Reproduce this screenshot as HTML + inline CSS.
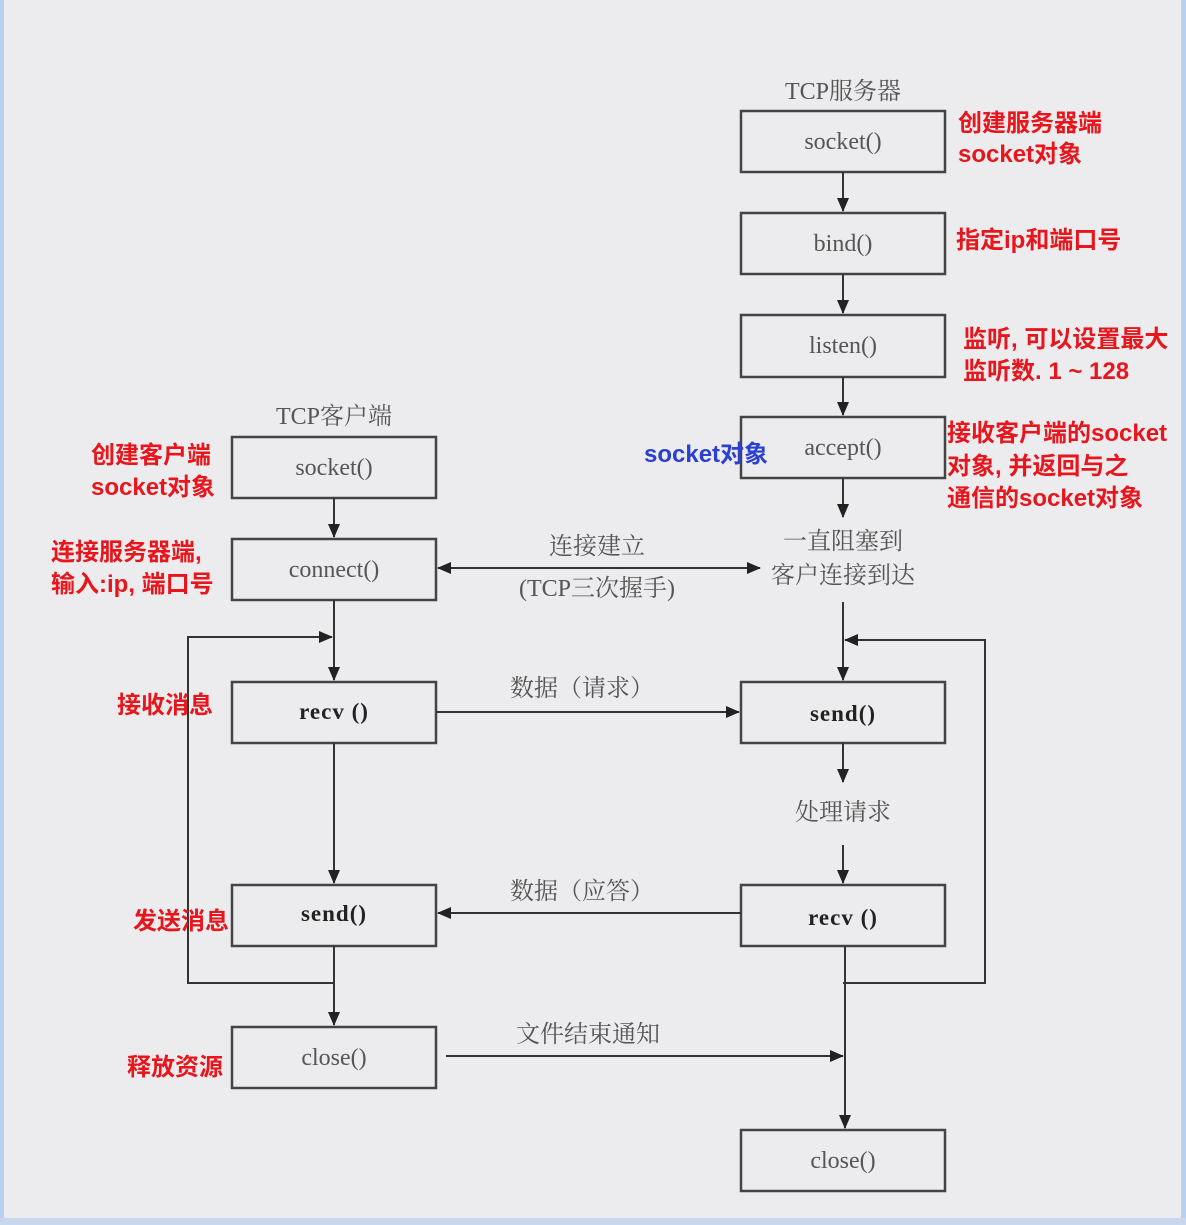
<!DOCTYPE html>
<html><head><meta charset="utf-8"><style>
body{margin:0;background:#ececee;}
svg{display:block}
.g{font-family:"Liberation Serif","Noto Serif CJK SC",serif;fill:#555;font-size:24px;text-anchor:middle}
.b{font-family:"Liberation Serif",serif;fill:#222;font-size:23px;font-weight:bold;text-anchor:middle;letter-spacing:1px}
.r{font-family:"Liberation Sans","Noto Sans CJK SC",sans-serif;fill:#e8161c;font-size:24px;font-weight:bold}
.bl{font-family:"Liberation Sans","Noto Sans CJK SC",sans-serif;fill:#2b3fd0;font-size:24px;font-weight:bold}
rect{fill:none;stroke:#444;stroke-width:2.5}
line,polyline{stroke:#333;stroke-width:2;fill:none}
</style></head><body>
<svg width="1186" height="1225" viewBox="0 0 1186 1225">
<defs>
<marker id="s" markerWidth="14" markerHeight="14" refX="13" refY="7" orient="auto-start-reverse" markerUnits="userSpaceOnUse" viewBox="0 0 14 14"><path d="M0,1L14,7L0,13z" fill="#222"/></marker></defs>
<rect x="0" y="0" width="4" height="1225" style="fill:#b8cff0;stroke:none"/>
<rect x="1181" y="0" width="5" height="1225" style="fill:#b8cff0;stroke:none"/>
<rect x="0" y="1218" width="1186" height="7" style="fill:#c8d6ee;stroke:none"/>
<!-- server -->
<text class="g" x="843" y="99">TCP服务器</text>
<rect x="741" y="111" width="204" height="61"/><text class="g" x="843" y="149">socket()</text>
<rect x="741" y="213" width="204" height="61"/><text class="g" x="843" y="251">bind()</text>
<rect x="741" y="315" width="204" height="62"/><text class="g" x="843" y="353">listen()</text>
<rect x="741" y="417" width="204" height="61"/><text class="g" x="843" y="455">accept()</text>
<rect x="741" y="682" width="204" height="61"/><text class="b" x="843" y="721">send()</text>
<rect x="741" y="885" width="204" height="61"/><text class="b" x="843" y="925">recv ()</text>
<rect x="741" y="1130" width="204" height="61"/><text class="g" x="843" y="1168">close()</text>
<line x1="843" y1="172" x2="843" y2="211" marker-end="url(#s)"/>
<line x1="843" y1="274" x2="843" y2="313" marker-end="url(#s)"/>
<line x1="843" y1="377" x2="843" y2="415" marker-end="url(#s)"/>
<line x1="843" y1="478" x2="843" y2="517" marker-end="url(#s)"/>
<text class="g" x="843" y="549">一直阻塞到</text>
<text class="g" x="843" y="583">客户连接到达</text>
<line x1="843" y1="602" x2="843" y2="680" marker-end="url(#s)"/>
<polyline points="843,983 985,983 985,640 845,640" marker-end="url(#s)"/>
<line x1="843" y1="743" x2="843" y2="782" marker-end="url(#s)"/>
<text class="g" x="843" y="820">处理请求</text>
<line x1="843" y1="845" x2="843" y2="883" marker-end="url(#s)"/>
<line x1="845" y1="946" x2="845" y2="1128" marker-end="url(#s)"/>
<!-- client -->
<text class="g" x="334" y="424">TCP客户端</text>
<rect x="232" y="437" width="204" height="61"/><text class="g" x="334" y="475">socket()</text>
<rect x="232" y="539" width="204" height="61"/><text class="g" x="334" y="577">connect()</text>
<rect x="232" y="682" width="204" height="61"/><text class="b" x="334" y="719">recv ()</text>
<rect x="232" y="885" width="204" height="61"/><text class="b" x="334" y="921">send()</text>
<rect x="232" y="1027" width="204" height="61"/><text class="g" x="334" y="1065">close()</text>
<line x1="334" y1="498" x2="334" y2="537" marker-end="url(#s)"/>
<line x1="334" y1="600" x2="334" y2="680" marker-end="url(#s)"/>
<polyline points="334,983 188,983 188,637 332,637" marker-end="url(#s)"/>
<line x1="334" y1="743" x2="334" y2="883" marker-end="url(#s)"/>
<line x1="334" y1="946" x2="334" y2="1025" marker-end="url(#s)"/>
<!-- horizontal -->
<line x1="438" y1="568" x2="760" y2="568" marker-start="url(#s)" marker-end="url(#s)"/>
<text class="g" x="597" y="554">连接建立</text>
<text class="g" x="597" y="596">(TCP三次握手)</text>
<line x1="436" y1="712" x2="739" y2="712" marker-end="url(#s)"/>
<text class="g" x="582" y="696">数据（请求）</text>
<line x1="741" y1="913" x2="438" y2="913" marker-end="url(#s)"/>
<text class="g" x="582" y="899">数据（应答）</text>
<line x1="446" y1="1056" x2="843" y2="1056" marker-end="url(#s)"/>
<text class="g" x="588" y="1042">文件结束通知</text>
<!-- red -->
<text class="r" x="958" y="131">创建服务器端</text>
<text class="r" x="958" y="162">socket对象</text>
<text class="r" x="956" y="248">指定ip和端口号</text>
<text class="r" x="963" y="347">监听, 可以设置最大</text>
<text class="r" x="963" y="379">监听数. 1 ~ 128</text>
<text class="r" x="947" y="441">接收客户端的socket</text>
<text class="r" x="947" y="474">对象, 并返回与之</text>
<text class="r" x="947" y="506">通信的socket对象</text>
<text class="bl" x="644" y="462">socket对象</text>
<text class="r" x="91" y="463">创建客户端</text>
<text class="r" x="91" y="495">socket对象</text>
<text class="r" x="51" y="560">连接服务器端,</text>
<text class="r" x="51" y="592">输入:ip, 端口号</text>
<text class="r" x="117" y="713">接收消息</text>
<text class="r" x="133" y="929">发送消息</text>
<text class="r" x="127" y="1075">释放资源</text>
</svg>
</body></html>
